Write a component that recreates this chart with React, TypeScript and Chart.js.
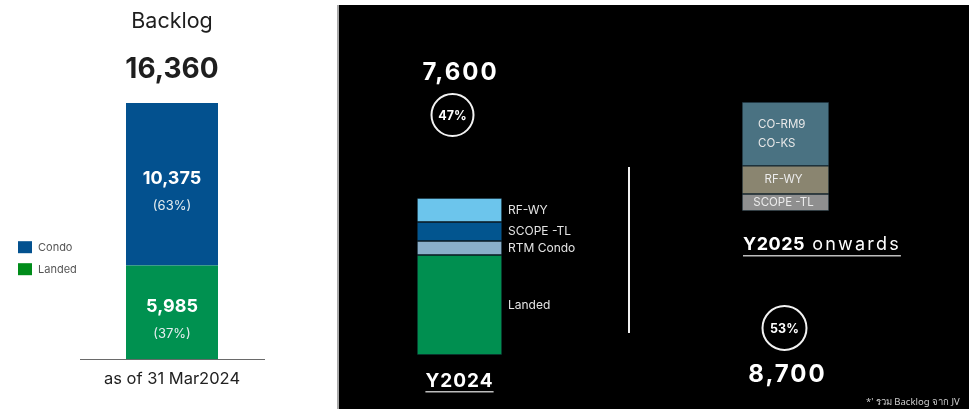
import React, { useEffect, useRef } from "react";
import { Chart, registerables } from "chart.js";
Chart.register(...registerables);

const FONT = "Inter, 'Open Sans', sans-serif";

// Left panel: backlog as of 31 Mar 2024
const backlogCategories = ["as of 31 Mar2024"];
const backlogSeries = ["Landed", "Condo"];
const backlogValues = [5985, 10375];
const backlogColors = ["#009150", "#03518F"];
const legendColors = ["#008C1A", "#03518F"];

// Y2024 stack (bottom -> top)
const y2024Category = ["Y2024"];
const y2024Segments = ["Landed", "RTM Condo", "SCOPE -TL", "RF-WY"];
const y2024Values = [4840, 680, 920, 1160];
const y2024Colors = ["#008F50", "#8AAFCA", "#02558F", "#6CC5EC"];

// Y2025 onwards stack (bottom -> top)
const y2025Category = ["Y2025 onwards"];
const y2025Segments = ["SCOPE -TL", "RF-WY", "CO-RM9\nCO-KS"];
const y2025Values = [1360, 2240, 5100];
const y2025Colors = ["#8F8F8F", "#8A8570", "#4A7282"];

const sum = (a: number[]) => a.reduce((s, v) => s + v, 0);
const fmt = (v: number) => v.toLocaleString("en-US");

function txt(
  ctx: CanvasRenderingContext2D,
  s: string,
  x: number,
  y: number,
  font: string,
  color: string,
  align: CanvasTextAlign = "center",
  spacing = "0px"
) {
  ctx.save();
  ctx.font = font;
  ctx.fillStyle = color;
  ctx.textAlign = align;
  ctx.textBaseline = "middle";
  (ctx as any).letterSpacing = spacing;
  ctx.fillText(s, x, y);
  const w = ctx.measureText(s).width;
  ctx.restore();
  return w;
}

function circleLabel(ctx: CanvasRenderingContext2D, x: number, y: number, r: number, s: string) {
  ctx.save();
  ctx.beginPath();
  ctx.arc(x, y, r, 0, Math.PI * 2);
  ctx.strokeStyle = "#f2f2f2";
  ctx.lineWidth = 2;
  ctx.stroke();
  ctx.restore();
  txt(ctx, s, x, y + 1, `bold 12.5px ${FONT}`, "#ffffff");
}

function segProps(chart: any, i: number) {
  const el = chart.getDatasetMeta(i).data[0];
  const p = el.getProps(["x", "y", "base", "width"], true);
  return { x: p.x, top: Math.min(p.y, p.base), bottom: Math.max(p.y, p.base), w: p.width };
}

const grandTotal = sum(y2024Values) + sum(y2025Values);

export default function App() {
  const leftRef = useRef<HTMLCanvasElement>(null);
  const midRef = useRef<HTMLCanvasElement>(null);
  const rightRef = useRef<HTMLCanvasElement>(null);

  useEffect(() => {
    const charts: Chart[] = [];
    const backlogTotal = sum(backlogValues);

    // ---------- Left chart ----------
    charts.push(
      new Chart(leftRef.current!, {
        type: "bar",
        data: {
          labels: backlogCategories,
          datasets: backlogSeries.map((s, i) => ({
            label: s,
            data: [backlogValues[i]],
            backgroundColor: backlogColors[i],
            barPercentage: 0.5,
            categoryPercentage: 1,
          })),
        },
        options: {
          responsive: false,
          animation: false,
          layout: { padding: { left: 80, right: 73, top: 103, bottom: 18 } },
          plugins: { legend: { display: false }, tooltip: { enabled: false } },
          scales: {
            x: {
              stacked: true,
              grid: { display: false },
              border: { display: true, color: "#6a6a6a", width: 1 },
              ticks: { color: "#222", font: { family: FONT, size: 16.5 }, padding: 2 },
            },
            y: { stacked: true, display: false, min: 0, max: backlogTotal },
          },
        },
        plugins: [
          {
            id: "leftText",
            afterDatasetsDraw(chart: any) {
              const ctx = chart.ctx;
              const a = chart.chartArea;
              backlogSeries.forEach((_, i) => {
                const p = segProps(chart, i);
                const cy = (p.top + p.bottom) / 2;
                const pct = Math.round((backlogValues[i] / backlogTotal) * 100);
                txt(ctx, fmt(backlogValues[i]), p.x, cy - 6, `bold 18px ${FONT}`, "#ffffff");
                txt(ctx, `(${pct}%)`, p.x, cy + 22, `13px ${FONT}`, "#e6eef0");
              });
              const p0 = segProps(chart, 0);
              txt(ctx, fmt(backlogTotal), p0.x, a.top - 33, `bold 28px ${FONT}`, "#1e1e1e");
              txt(ctx, "Backlog", p0.x, a.top - 81, `21.5px ${FONT}`, "#1e1e1e");
              // legend (Condo on top, Landed below)
              const rows = [1, 0];
              rows.forEach((idx, r) => {
                const yy = a.bottom - 112 + r * 22;
                ctx.fillStyle = legendColors[idx];
                ctx.fillRect(18, yy - 6, 14, 12);
                txt(ctx, backlogSeries[idx], 38, yy, `11px ${FONT}`, "#555", "left");
              });
            },
          },
        ],
      } as any)
    );

    // ---------- Y2024 chart ----------
    const t24 = sum(y2024Values);
    charts.push(
      new Chart(midRef.current!, {
        type: "bar",
        data: {
          labels: y2024Category,
          datasets: y2024Segments.map((s, i) => ({
            label: s,
            data: [y2024Values[i]],
            backgroundColor: y2024Colors[i],
            borderColor: "#0a1820",
            borderWidth: 1,
            borderSkipped: false,
            barPercentage: 1,
            categoryPercentage: 1,
          })),
        },
        options: {
          responsive: false,
          animation: false,
          layout: { padding: { left: 77, right: 128, top: 198, bottom: 54 } },
          plugins: { legend: { display: false }, tooltip: { enabled: false } },
          scales: {
            x: { stacked: true, display: false },
            y: { stacked: true, display: false, min: 0, max: t24 },
          },
        },
        plugins: [
          {
            id: "midText",
            afterDatasetsDraw(chart: any) {
              const ctx = chart.ctx;
              const a = chart.chartArea;
              let cx = 0;
              y2024Segments.forEach((s, i) => {
                const p = segProps(chart, i);
                cx = p.x;
                const cy = (p.top + p.bottom) / 2;
                txt(ctx, s, p.x + p.w / 2 + 6, cy, `12px ${FONT}`, "#e4e4e4", "left");
              });
              txt(ctx, fmt(t24), cx + 1, a.top - 125, `bold 24px ${FONT}`, "#ffffff", "center", "2px");
              circleLabel(ctx, cx - 7, a.top - 83, 21, `${Math.round((t24 / grandTotal) * 100)}%`);
              const w = txt(ctx, y2024Category[0], cx, a.bottom + 26, `bold 19px ${FONT}`, "#ffffff", "center", "1px");
              ctx.fillStyle = "#bdbdbd";
              ctx.fillRect(cx - w / 2, a.bottom + 36, w, 1.5);
            },
          },
        ],
      } as any)
    );

    // ---------- Y2025 onwards chart ----------
    const t25 = sum(y2025Values);
    charts.push(
      new Chart(rightRef.current!, {
        type: "bar",
        data: {
          labels: y2025Category,
          datasets: y2025Segments.map((s, i) => ({
            label: s,
            data: [y2025Values[i]],
            backgroundColor: y2025Colors[i],
            borderColor: "#15252c",
            borderWidth: 1,
            borderSkipped: false,
            barPercentage: 1,
            categoryPercentage: 1,
          })),
        },
        options: {
          responsive: false,
          animation: false,
          layout: { padding: { left: 82, right: 140, top: 102, bottom: 198 } },
          plugins: { legend: { display: false }, tooltip: { enabled: false } },
          scales: {
            x: { stacked: true, display: false },
            y: { stacked: true, display: false, min: 0, max: t25 },
          },
        },
        plugins: [
          {
            id: "rightText",
            afterDatasetsDraw(chart: any) {
              const ctx = chart.ctx;
              const a = chart.chartArea;
              let cx = 0;
              let left = 0;
              y2025Segments.forEach((s, i) => {
                const p = segProps(chart, i);
                cx = p.x;
                left = p.x - p.w / 2;
                const cy = (p.top + p.bottom) / 2;
                const lines = s.split("\n");
                if (lines.length > 1) {
                  lines.forEach((ln, k) => {
                    txt(ctx, ln, left + 16, cy - 9 + k * 19, `11.5px ${FONT}`, "#e8e8e8", "left");
                  });
                } else {
                  txt(ctx, s, p.x - 2, cy, `11.5px ${FONT}`, "#ececec");
                }
              });
              // category title: "Y2025" bold + " onwards"
              const [bold, ...rest] = y2025Category[0].split(" ");
              const ty = a.bottom + 34;
              const x0 = left + 1;
              const w1 = txt(ctx, bold, x0, ty, `bold 18px ${FONT}`, "#ffffff", "left", "0.5px");
              const w2 = txt(ctx, " " + rest.join(" "), x0 + w1, ty, `18px ${FONT}`, "#ffffff", "left", "2.2px");
              ctx.fillStyle = "#bdbdbd";
              ctx.fillRect(x0, a.bottom + 44, w1 + w2, 1.5);
              circleLabel(ctx, cx - 1, a.bottom + 117, 22, `${Math.round((t25 / grandTotal) * 100)}%`);
              txt(ctx, fmt(t25), cx + 2, a.bottom + 164, `bold 24px ${FONT}`, "#ffffff", "center", "2px");
            },
          },
        ],
      } as any)
    );

    return () => charts.forEach((c) => c.destroy());
  }, []);

  return (
    <div
      style={{
        position: "fixed",
        left: 0,
        top: 0,
        width: 969,
        height: 409,
        background: "#ffffff",
        overflow: "hidden",
        fontFamily: FONT,
      }}
    >
      <div style={{ position: "absolute", left: 337, top: 5, width: 2, height: 404, background: "#a8a8a8" }} />
      <div style={{ position: "absolute", left: 339, top: 5, width: 630, height: 404, background: "#000000" }} />
      <div style={{ position: "absolute", left: 628, top: 167, width: 2, height: 166, background: "#f0f0f0" }} />
      <canvas ref={leftRef} width={337} height={409} style={{ position: "absolute", left: 0, top: 0 }} />
      <canvas ref={midRef} width={290} height={409} style={{ position: "absolute", left: 340, top: 0 }} />
      <canvas ref={rightRef} width={309} height={409} style={{ position: "absolute", left: 660, top: 0 }} />
      <div
        style={{
          position: "absolute",
          left: 866,
          top: 394,
          fontSize: 9.5,
          color: "#cfcfcf",
          whiteSpace: "nowrap",
          fontFamily: "'Noto Sans', 'DejaVu Sans', sans-serif",
        }}
      >
        *' รวม Backlog จาก JV
      </div>
    </div>
  );
}
